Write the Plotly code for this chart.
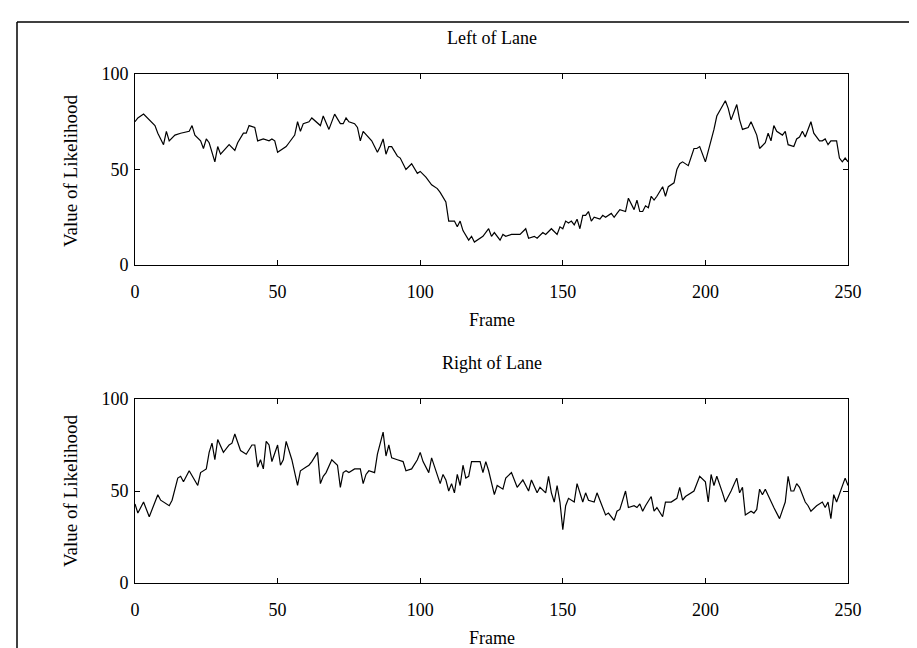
import plotly.graph_objects as go
from plotly.subplots import make_subplots

# ---- data ----
left_frames = [0, 1, 3, 5, 7, 8, 10, 11, 12, 14, 16, 19, 20, 21, 23, 24, 25, 26, 28, 29, 30, 33, 35, 36, 38, 39,
               40, 42, 43, 45, 47, 48, 49, 50, 51, 53, 54, 56, 57, 58, 59, 61, 62, 64, 65, 66, 68, 70, 72, 73,
               74, 75, 77, 78, 79, 80, 82, 83, 85, 86, 87, 88, 89, 90, 92, 93, 95, 97, 99, 100, 102, 104, 106,
               107, 109, 110, 112, 113, 114, 115, 117, 118, 119, 120, 122, 124, 125, 126, 128, 129, 130, 132,
               134, 135, 137, 138, 140, 141, 143, 144, 146, 148, 149, 150, 151, 152, 153, 154, 155, 156, 157,
               158, 159, 160, 161, 163, 164, 165, 167, 168, 169, 170, 172, 173, 175, 176, 177, 178, 179, 180,
               181, 182, 183, 185, 186, 187, 189, 190, 191, 192, 194, 195, 196, 197, 198, 200, 202, 203, 204,
               207, 208, 209, 211, 212, 213, 215, 216, 218, 219, 221, 222, 223, 224, 225, 227, 228, 229, 231,
               232, 233, 234, 235, 237, 238, 240, 241, 242, 243, 244, 246, 247, 248, 249, 250]
left_values = [75, 77, 79, 76, 73, 69, 63, 70, 65, 68, 69, 70, 73, 68, 65, 61, 66, 64, 54, 62, 58, 63, 60, 64, 69, 69,
               73, 72, 65, 66, 65, 66, 65, 59, 60, 62, 64, 68, 75, 70, 74, 75, 77, 74, 73, 78, 71, 79, 74, 74,
               77, 75, 74, 72, 65, 70, 67, 65, 59, 62, 66, 58, 62, 62, 57, 56, 50, 53, 48, 49, 46, 42, 40,
               38, 33, 23, 23, 20, 23, 18, 13, 15, 12, 13, 15, 19, 15, 17, 13, 16, 15, 16,
               16, 16, 19, 14, 15, 14, 17, 16, 19, 16, 20, 19, 23, 22, 23, 21, 24, 19, 26,
               26, 28, 23, 25, 24, 26, 25, 27, 25, 27, 29, 28, 35, 29, 34, 28, 28, 31, 30,
               36, 34, 36, 41, 36, 41, 43, 50, 53, 54, 52, 56, 61, 61, 62, 54, 65, 71, 78,
               86, 82, 76, 84, 76, 71, 72, 75, 68, 61, 64, 69, 65, 73, 70, 68, 70, 63, 62,
               66, 67, 70, 67, 75, 69, 65, 65, 66, 63, 65, 65, 56, 54, 56, 54]

right_frames = [0, 1, 3, 5, 8, 9, 12, 13, 15, 16, 17, 19, 22, 23, 25, 26, 27, 28, 29, 31, 33, 34, 35, 37, 39, 41,
                42, 43, 44, 45, 46, 47, 48, 50, 51, 52, 53, 55, 57, 58, 60, 61, 62, 64, 65, 66, 67, 69, 71, 72,
                73, 74, 75, 77, 79, 80, 81, 82, 84, 85, 87, 88, 89, 90, 92, 94, 95, 97, 99, 100, 101, 103, 104,
                105, 107, 108, 109, 110, 111, 112, 113, 114, 115, 116, 117, 118, 120, 121, 122, 123, 124, 126,
                127, 129, 130, 132, 134, 136, 138, 139, 141, 142, 144, 145, 146, 147, 148, 149, 150, 151, 152,
                154, 155, 157, 158, 159, 161, 162, 163, 165, 166, 168, 169, 170, 172, 173, 175, 176, 177, 178,
                179, 181, 182, 183, 185, 186, 188, 190, 191, 192, 193, 195, 196, 198, 200, 201, 202, 203, 204,
                206, 207, 209, 211, 212, 213, 214, 216, 217, 218, 219, 220, 221, 223, 224, 226, 228, 229, 230,
                231, 232, 233, 235, 236, 237, 239, 241, 242, 243, 244, 245, 246, 247, 249, 250]
right_values = [43, 38, 44, 36, 48, 45, 42, 45, 57, 58, 55, 61, 53, 60, 62, 71, 76, 67, 78, 71, 75, 76, 81, 72, 70, 75,
                75, 63, 67, 62, 77, 75, 66, 75, 64, 67, 77, 67, 53, 61, 63, 64, 66, 71, 54, 58, 60, 67, 64, 52,
                60, 61, 60, 62, 62, 54, 59, 61, 60, 70, 82, 69, 75, 68, 67, 66, 61, 62, 67, 71, 66, 60, 68,
                63, 54, 59, 56, 50, 54, 49, 59, 53, 64, 57, 58, 66, 66, 66, 60, 66, 61, 48,
                53, 51, 57, 60, 52, 56, 50, 56, 49, 52, 49, 58, 49, 44, 53, 44, 29, 42, 46,
                44, 54, 44, 49, 45, 44, 49, 45, 37, 38, 34, 39, 40, 50, 41, 42, 41, 43, 39,
                42, 47, 39, 41, 36, 44, 44, 46, 52, 45, 47, 49, 50, 58, 55, 44, 59, 53, 58,
                49, 44, 50, 57, 49, 52, 37, 39, 38, 40, 51, 48, 51, 44, 41, 35, 44, 58, 50,
                50, 54, 52, 44, 42, 39, 42, 44, 41, 44, 35, 48, 44, 48, 57, 53]

x_ticks = [0, 50, 100, 150, 200, 250]
y_ticks = [0, 50, 100]
titles = ["Left of Lane", "Right of Lane"]
x_label = "Frame"
y_label = "Value of Likelihood"

# ---- figure ----
W, H = 917, 648
ML, MR, MT, MB = 127, 77, 66, 73
PW, PH = W - ML - MR, H - MT - MB

def py(p):  # pixel y -> paper y
    return (H - MB - p) / PH

def px(p):  # pixel x -> paper x
    return (p - ML) / PW

fig = make_subplots(rows=2, cols=1)
fig.add_trace(go.Scatter(x=left_frames, y=left_values, mode="lines",
                         line=dict(color="black", width=1.2), showlegend=False), row=1, col=1)
fig.add_trace(go.Scatter(x=right_frames, y=right_values, mode="lines",
                         line=dict(color="black", width=1.2), showlegend=False), row=2, col=1)

FAM = "Liberation Serif, Times New Roman, serif"
font = dict(family=FAM, size=18, color="black")
axis_common = dict(showline=True, mirror="ticks", linecolor="black", linewidth=1,
                   ticks="inside", ticklen=5, tickcolor="black", showgrid=False, zeroline=False,
                   tickfont=font)
fig.update_xaxes(range=[0, 250], tickvals=x_ticks, ticklabelstandoff=10, **axis_common)
fig.update_yaxes(range=[0, 100], tickvals=y_ticks, ticklabelstandoff=2, **axis_common)

fig.update_layout(
    width=W, height=H,
    margin=dict(l=ML, r=MR, t=MT, b=MB),
    paper_bgcolor="white", plot_bgcolor="white",
    font=font,
    yaxis=dict(domain=[py(257), 1.0]),
    yaxis2=dict(domain=[0.0, py(391)]),
    xaxis=dict(domain=[0, 1]), xaxis2=dict(domain=[0, 1]),
)

ann = []
tfont = dict(family=FAM, size=18, color="black")
lfont = dict(family=FAM, size=19, color="black")
ann.append(dict(text=titles[0], x=0.5, y=py(30), xref="paper", yref="paper", showarrow=False,
                font=tfont, xanchor="center", yanchor="middle"))
ann.append(dict(text=titles[1], x=0.5, y=py(355), xref="paper", yref="paper", showarrow=False,
                font=tfont, xanchor="center", yanchor="middle"))
ann.append(dict(text=x_label, x=0.5, y=py(312), xref="paper", yref="paper", showarrow=False,
                font=tfont, xanchor="center", yanchor="middle"))
ann.append(dict(text=x_label, x=0.5, y=py(630), xref="paper", yref="paper", showarrow=False,
                font=tfont, xanchor="center", yanchor="middle"))
ann.append(dict(text=y_label, x=px(62), y=py(163), xref="paper", yref="paper", showarrow=False,
                font=lfont, textangle=-90, xanchor="center", yanchor="middle"))
ann.append(dict(text=y_label, x=px(62), y=py(483), xref="paper", yref="paper", showarrow=False,
                font=lfont, textangle=-90, xanchor="center", yanchor="middle"))
fig.update_layout(annotations=ann)

# outer frame lines (left and top) of the scanned figure
fig.add_shape(type="line", xref="paper", yref="paper", x0=px(9), x1=px(9), y0=py(14), y1=py(648),
              line=dict(color="black", width=1.5))
fig.add_shape(type="line", xref="paper", yref="paper", x0=px(9), x1=px(917), y0=py(14), y1=py(14),
              line=dict(color="black", width=1.5))

fig.write_html("out.html")
